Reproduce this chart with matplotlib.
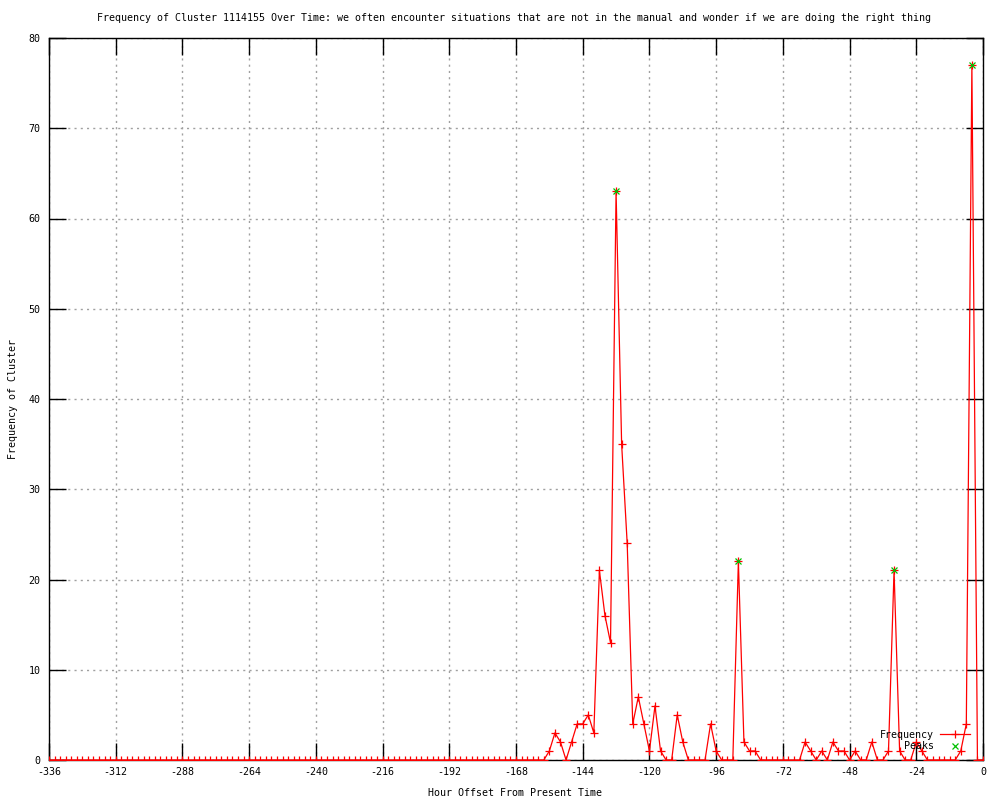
import numpy as np
import matplotlib
matplotlib.use("Agg")
import matplotlib.pyplot as plt

# hours offset from present (every 2 hours)
hours = np.arange(-336, 1, 2)

# frequency values, -336 .. -158 (all zero) then -156 .. 0
freq_early = [0, 0, 0, 0, 0, 0, 0, 0, 0, 0,
              0, 0, 0, 0, 0, 0, 0, 0, 0, 0,
              0, 0, 0, 0, 0, 0, 0, 0, 0, 0,
              0, 0, 0, 0, 0, 0, 0, 0, 0, 0,
              0, 0, 0, 0, 0, 0, 0, 0, 0, 0,
              0, 0, 0, 0, 0, 0, 0, 0, 0, 0,
              0, 0, 0, 0, 0, 0, 0, 0, 0, 0,
              0, 0, 0, 0, 0, 0, 0, 0, 0, 0,
              0, 0, 0, 0, 0, 0, 0, 0, 0, 0]
freq_late = [1, 3, 2, 0, 2, 4, 4, 5, 3, 21,      # -156 .. -138
             16, 13, 63, 35, 24, 4, 7, 4, 1, 6,  # -136 .. -118
             1, 0, 0, 5, 2, 0, 0, 0, 0, 4,       # -116 .. -98
             1, 0, 0, 0, 22, 2, 1, 1, 0, 0,      # -96 .. -78
             0, 0, 0, 0, 0, 0, 2, 1, 0, 1,       # -76 .. -58
             0, 2, 1, 1, 0, 1, 0, 0, 2, 0,       # -56 .. -38
             0, 1, 21, 1, 0, 0, 2, 1, 0, 0,      # -36 .. -18
             0, 0, 0, 0, 1, 4, 77, 0, 0]         # -16 .. 0
freq = freq_early + freq_late

peak_hours = [-132, -88, -32, -4]
peak_values = [63, 22, 21, 77]

xticks = list(range(-336, 1, 24))
yticks = list(range(0, 81, 10))

title = ("Frequency of Cluster 1114155 Over Time: we often encounter situations "
         "that are not in the manual and wonder if we are doing the right thing")

mono = "DejaVu Sans Mono"
fs = 7.2

fig = plt.figure(figsize=(10, 8), dpi=100)
ax = fig.add_axes([0.049, 0.05, 0.934, 0.9025])

ax.plot(hours, freq, color="red", lw=0.9, marker="+", markersize=5.5,
        markeredgewidth=0.9, label="Frequency", zorder=3)
ax.plot(peak_hours, peak_values, linestyle="none", color="#00c000", marker="x",
        markersize=5, markeredgewidth=0.9, label="Peaks", zorder=4)

ax.set_xlim(-336, 0)
ax.set_ylim(0, 80)
ax.set_xticks(xticks)
ax.set_yticks(yticks)
ax.set_xticklabels([str(t) for t in xticks], fontfamily=mono, fontsize=fs)
ax.set_yticklabels([str(t) for t in yticks], fontfamily=mono, fontsize=fs)
ax.tick_params(direction="in", length=12, width=1, top=True, right=True,
               color="black")
ax.tick_params(axis="x", pad=5)
ax.tick_params(axis="y", pad=6)
ax.grid(True, color="#a0a0a0", linestyle=(0, (1.5, 3)), lw=1.0)
ax.set_axisbelow(True)
for s in ax.spines.values():
    s.set_color("black")
    s.set_linewidth(1.0)

fig.text(0.514, 1 - 18 / 800, title, ha="center", va="center",
         fontfamily=mono, fontsize=fs)
fig.text(0.515, 1 - 793 / 800, "Hour Offset From Present Time", ha="center",
         va="center", fontfamily=mono, fontsize=fs)
fig.text(0.013, 1 - 399 / 800, "Frequency of Cluster", ha="center",
         va="center", rotation=90, fontfamily=mono, fontsize=fs)

leg = ax.legend(loc="lower right", bbox_to_anchor=(0.970, 1 - 751 / 800),
                bbox_transform=fig.transFigure, frameon=False,
                markerfirst=False, numpoints=1, handlelength=3.0,
                handletextpad=0.6, labelspacing=0.15, borderpad=0,
                borderaxespad=0, prop={"family": mono, "size": fs})

fig.savefig("out.png", dpi=100)
